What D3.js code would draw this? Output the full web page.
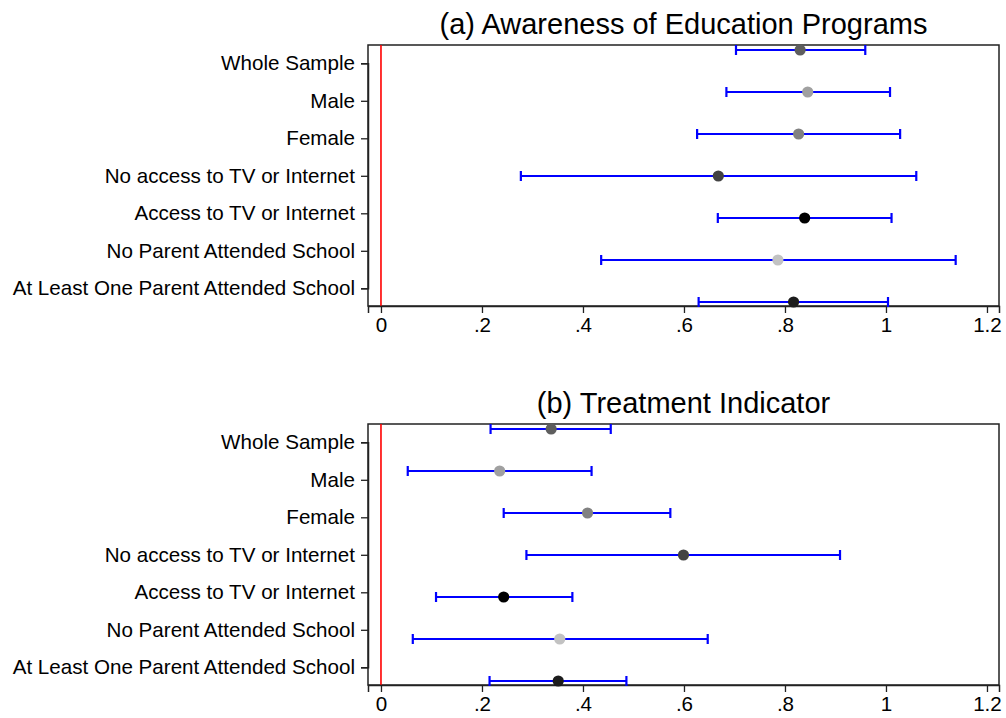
<!DOCTYPE html>
<html>
<head>
<meta charset="utf-8">
<script src="https://cdn.jsdelivr.net/npm/d3@7"></script>
<style>
  html, body { margin: 0; padding: 0; background: #fff; }
  svg { display: block; font-family: "Liberation Sans", Arial, Helvetica, sans-serif; }
</style>
</head>
<body>
<svg id="chart" width="1006" height="718"></svg>
<script>
// Subgroups shown on the vertical axis (top to bottom)
const categories = [
  "Whole Sample",
  "Male",
  "Female",
  "No access to TV or Internet",
  "Access to TV or Internet",
  "No Parent Attended School",
  "At Least One Parent Attended School"
];

// (a) Awareness of Education Programs: point estimates and 95% CI bounds
const awarenessEst = [0.830, 0.845, 0.827, 0.668, 0.839, 0.786, 0.817];
const awarenessLo  = [0.703, 0.684, 0.626, 0.277, 0.667, 0.436, 0.629];
const awarenessHi  = [0.959, 1.008, 1.028, 1.060, 1.011, 1.138, 1.004];

// (b) Treatment Indicator: point estimates and 95% CI bounds
const treatmentEst = [0.337, 0.235, 0.409, 0.599, 0.243, 0.354, 0.351];
const treatmentLo  = [0.217, 0.053, 0.243, 0.288, 0.109, 0.063, 0.215];
const treatmentHi  = [0.455, 0.417, 0.573, 0.909, 0.379, 0.647, 0.486];

// x-axis tick values and their printed labels
const xTicks = [0, 0.2, 0.4, 0.6, 0.8, 1, 1.2];
const xTickLabels = ["0", ".2", ".4", ".6", ".8", "1", "1.2"];

// marker shades per subgroup
const markerColors = ["#5e5e5e", "#a0a0a0", "#818181", "#424242", "#000000", "#c2c2c2", "#1c1c1c"];

const panels = [
  { title: "(a) Awareness of Education Programs", est: awarenessEst, lo: awarenessLo, hi: awarenessHi, top: 45 },
  { title: "(b) Treatment Indicator", est: treatmentEst, lo: treatmentLo, hi: treatmentHi, top: 424 }
];

const svg = d3.select("#chart");
const plotLeft = 368, plotRight = 999, plotH = 261;
const plotW = plotRight - plotLeft;
const fontSize = 20.6;

const x = d3.scaleLinear().domain([-0.0257, 1.2238]).range([0, plotW]);
// markers and tick labels sit on slightly different vertical grids
const yMark = d3.scaleLinear().domain([0, categories.length - 1]).range([5, plotH - 4]);
const yLab = d3.scaleLinear().domain([0, categories.length - 1]).range([18.3, plotH - 17.7]);

panels.forEach(p => {
  const g = svg.append("g").attr("transform", `translate(${plotLeft},${p.top})`);

  // title centred over the plot region
  g.append("text")
    .attr("x", plotW / 2)
    .attr("y", -11)
    .attr("text-anchor", "middle")
    .attr("font-size", 29)
    .attr("fill", "#000")
    .text(p.title);

  // plot region outline
  g.append("rect")
    .attr("x", 0).attr("y", 0)
    .attr("width", plotW).attr("height", plotH)
    .attr("fill", "none")
    .attr("stroke", "#222")
    .attr("stroke-width", 1.5);

  // reference line at zero
  g.append("line")
    .attr("x1", x(0)).attr("x2", x(0))
    .attr("y1", 0).attr("y2", plotH)
    .attr("stroke", "#ff0000")
    .attr("stroke-width", 1.6);

  // x axis
  const xAxis = d3.axisBottom(x)
    .tickValues(xTicks)
    .tickFormat((d, i) => xTickLabels[i])
    .tickSize(7)
    .tickPadding(4);
  const gx = g.append("g").attr("transform", `translate(0,${plotH})`).call(xAxis);
  gx.select(".domain").attr("stroke", "#222").attr("stroke-width", 1.5);
  gx.selectAll(".tick line").attr("stroke", "#222").attr("stroke-width", 1.3);
  gx.selectAll(".tick text")
    .attr("font-size", fontSize)
    .attr("font-family", "Liberation Sans, Arial, sans-serif")
    .attr("fill", "#000");

  // y axis with category labels
  const yAxis = d3.axisLeft(yLab)
    .tickValues(d3.range(categories.length))
    .tickFormat(i => categories[i])
    .tickSize(7)
    .tickPadding(6);
  const gy = g.append("g").call(yAxis);
  gy.select(".domain").attr("stroke", "#222").attr("stroke-width", 1.5);
  gy.selectAll(".tick line").attr("stroke", "#222").attr("stroke-width", 1.3);
  gy.selectAll(".tick text")
    .attr("font-size", fontSize)
    .attr("font-family", "Liberation Sans, Arial, sans-serif")
    .attr("fill", "#000");

  // confidence intervals
  const idx = d3.range(categories.length);
  const capH = 5;
  const ci = g.append("g").attr("stroke", "#0000ff").attr("stroke-width", 2.2);
  ci.selectAll("line.bar").data(idx).join("line").attr("class", "bar")
    .attr("x1", i => x(p.lo[i])).attr("x2", i => x(p.hi[i]))
    .attr("y1", i => yMark(i)).attr("y2", i => yMark(i));
  ci.selectAll("line.capL").data(idx).join("line").attr("class", "capL")
    .attr("x1", i => x(p.lo[i])).attr("x2", i => x(p.lo[i]))
    .attr("y1", i => yMark(i) - capH).attr("y2", i => yMark(i) + capH);
  ci.selectAll("line.capR").data(idx).join("line").attr("class", "capR")
    .attr("x1", i => x(p.hi[i])).attr("x2", i => x(p.hi[i]))
    .attr("y1", i => yMark(i) - capH).attr("y2", i => yMark(i) + capH);

  // point estimates
  g.selectAll("circle.est").data(idx).join("circle").attr("class", "est")
    .attr("cx", i => x(p.est[i]))
    .attr("cy", i => yMark(i))
    .attr("r", 5.6)
    .attr("fill", i => markerColors[i]);
});
</script>
</body>
</html>
